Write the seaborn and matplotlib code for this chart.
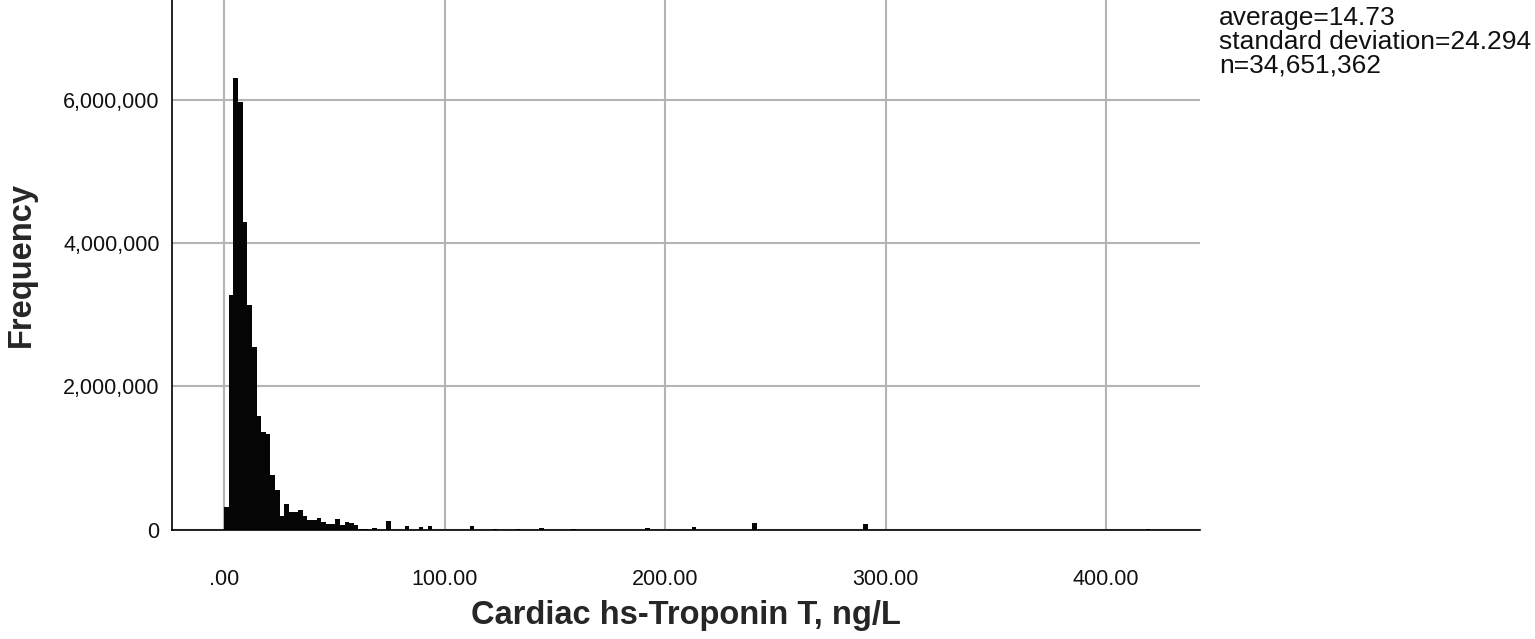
import numpy as np
import pandas as pd
import matplotlib
matplotlib.use("Agg")
import matplotlib.pyplot as plt
from matplotlib.ticker import FuncFormatter
import seaborn as sns

# bin width of the histogram (ng/L)
bin_width = 2.1

# lower edge of every non-empty bin (ng/L)
bin_lower = [0.0, 2.1, 4.2, 6.3, 8.4, 10.5, 12.6, 14.7, 16.8, 18.9,
             21.0, 23.1, 25.2, 27.3, 29.4, 31.5, 33.6, 35.7, 37.8, 39.9,
             42.0, 44.1, 46.2, 48.3, 50.4, 52.5, 54.6, 56.7, 58.8, 60.9,
             63.0, 65.1, 67.2, 69.3, 71.4, 73.5, 75.6, 77.7, 81.9, 84.0,
             88.2, 92.4, 111.3, 121.8, 132.3, 142.8, 157.5, 191.1, 212.1,
             239.4, 289.8, 417.9]

# frequency of each bin
frequency = [325000, 3275000, 6295000, 5969000, 4297000, 3136000, 2546000, 1589000, 1362000, 1340000,
             760000, 557000, 200000, 365000, 250000, 250000, 280000, 195000, 140000, 140000,
             165000, 110000, 85000, 85000, 150000, 70000, 110000, 95000, 70000, 15000,
             10000, 5000, 32000, 5000, 5000, 130000, 5000, 5000, 55000, 5000,
             40000, 55000, 55000, 20000, 20000, 30000, 20000, 30000, 45000,
             100000, 80000, 10000]

stats_text = "average=14.73\nstandard deviation=24.294\nn=34,651,362"

sns.set_style("white")
plt.rcParams['font.family'] = ['Liberation Sans', 'DejaVu Sans']

fig = plt.figure(figsize=(15.35, 6.39), dpi=100, facecolor='white')
ax = fig.add_axes([0.1121, 0.1706, 0.6697, 0.8294])

df = pd.DataFrame({'troponin': np.array(bin_lower) + bin_width / 2,
                   'freq': frequency})
edges = list(np.arange(0, 420.0 + bin_width, bin_width))
sns.histplot(data=df, x='troponin', weights='freq', bins=edges, ax=ax,
             color='#050505', alpha=1, edgecolor='none', linewidth=0)

# axes range and grid
ax.set_xlim(-23.6, 442.6)
ax.set_ylim(0, 7.387e6)
ax.set_xticks([0, 100, 200, 300, 400])
ax.set_yticks([0, 2e6, 4e6, 6e6])
ax.xaxis.set_major_formatter(FuncFormatter(lambda v, p: '.00' if v == 0 else f'{v:.2f}'))
ax.yaxis.set_major_formatter(FuncFormatter(lambda v, p: f'{int(v):,}'))
ax.set_axisbelow(True)
ax.grid(True, color='#b4b4b4', linewidth=1.5)
ax.tick_params(axis='both', length=0, labelsize=15.5, colors='#111111')
ax.tick_params(axis='x', pad=28)
ax.tick_params(axis='y', pad=9)

for s in ['top', 'right']:
    ax.spines[s].set_visible(False)
for s in ['left', 'bottom']:
    ax.spines[s].set_color('black')
    ax.spines[s].set_linewidth(1.2)

ax.set_xlabel('Cardiac hs-Troponin T, ng/L', fontsize=23.5, fontweight='bold', labelpad=7)
ax.set_ylabel('Frequency', fontsize=23.5, fontweight='bold', labelpad=19)

fig.text(1219 / 1535, 1 - 6 / 639, stats_text, ha='left', va='top',
         fontsize=19, linespacing=1.0, color='#111111')

plt.savefig('out.png', dpi=100, facecolor='white')
